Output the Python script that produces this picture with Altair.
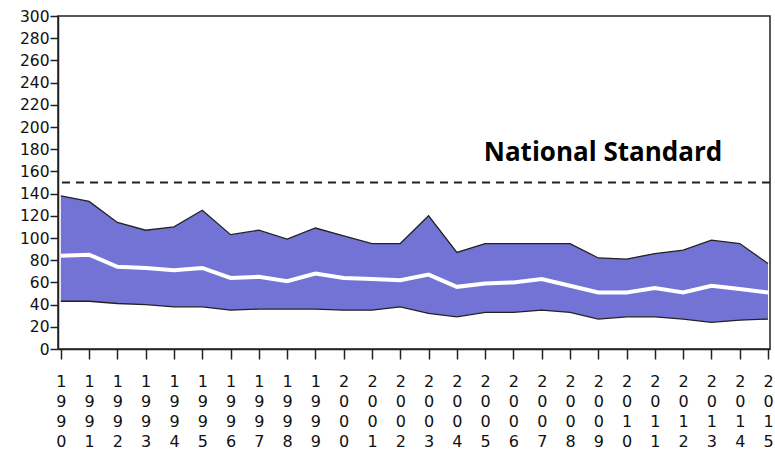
import altair as alt
import pandas as pd

# Annual concentration range (lower/upper bound) and central value, 1990-2015
years = list(range(1990, 2016))
upper = [138, 133, 114, 107, 110, 125, 103, 107, 99, 109, 102, 95, 95, 120, 87, 95, 95, 95, 95, 82, 81, 86, 89, 98, 95, 77]
middle = [84, 85, 74, 73, 71, 73, 64, 65, 61, 68, 64, 63, 62, 67, 56, 59, 60, 63, 57, 51, 51, 55, 51, 57, 54, 51]
lower = [43, 43, 41, 40, 38, 38, 35, 36, 36, 36, 35, 35, 38, 32, 29, 33, 33, 35, 33, 27, 29, 29, 27, 24, 26, 27]

standard_value = 150
standard_label = "National Standard"
y_ticks = list(range(0, 301, 20))

df = pd.DataFrame({"year": years, "upper": upper, "middle": middle, "lower": lower})

x_scale = alt.Scale(domain=[1989.9, 2015.07], nice=False, zero=False)
x_axis = alt.Axis(
    values=years,
    format="d",
    labelExpr="split(datum.label, '')",
    labelLineHeight=20,
    labelBaseline="top",
    labelPadding=14,
    labelOverlap=False,
    tickSize=10,
    labelFontSize=16,
    labelAngle=0,
    title=None,
    grid=False,
)
y_scale = alt.Scale(domain=[0, 300], nice=False)
y_axis = alt.Axis(values=y_ticks, tickSize=8, labelPadding=1,
                  labelOverlap=False, labelFontSize=15.5, title=None, grid=False)


def xq():
    return alt.X("year:Q", scale=x_scale, axis=x_axis)


def yq(field):
    return alt.Y(field, type="quantitative", scale=y_scale, axis=y_axis)


base = alt.Chart(df)

band = base.mark_area(color="#7373d6", opacity=1).encode(
    x=xq(), y=yq("lower"), y2="upper:Q"
)
upper_line = base.mark_line(color="#222222", strokeWidth=1.3).encode(x=xq(), y=yq("upper"))
lower_line = base.mark_line(color="#222222", strokeWidth=1.3).encode(x=xq(), y=yq("lower"))
mid_line = base.mark_line(color="white", strokeWidth=4).encode(x=xq(), y=yq("middle"))

std_df = pd.DataFrame({"value": [standard_value], "label": [standard_label]})
std_rule = alt.Chart(std_df).mark_rule(color="#222222", strokeWidth=1.8, strokeDash=[8, 6]).encode(
    y=yq("value")
)
std_text = alt.Chart(std_df).mark_text(
    font="Open Sans", fontWeight="bold", fontSize=26, color="black",
    align="center", baseline="alphabetic", dy=-22,
).encode(
    x=alt.value(545),
    y=yq("value"),
    text="label:N",
)

chart = (
    alt.layer(band, upper_line, lower_line, mid_line, std_rule, std_text)
    .properties(
        width=712,
        height=333,
        autosize=alt.AutoSizeParams(type="none"),
        padding={"left": 58, "top": 16, "right": 5, "bottom": 104},
    )
    .configure_view(stroke="#222222", strokeWidth=1.5)
    .configure_axis(
        labelFont="DejaVu Sans",
        labelColor="#111111",
        domainColor="#222222",
        domainWidth=1.5,
        tickColor="#222222",
        tickWidth=1.5,
    )
)

chart.save("out.html", embed_options={"renderer": "svg", "actions": False})
